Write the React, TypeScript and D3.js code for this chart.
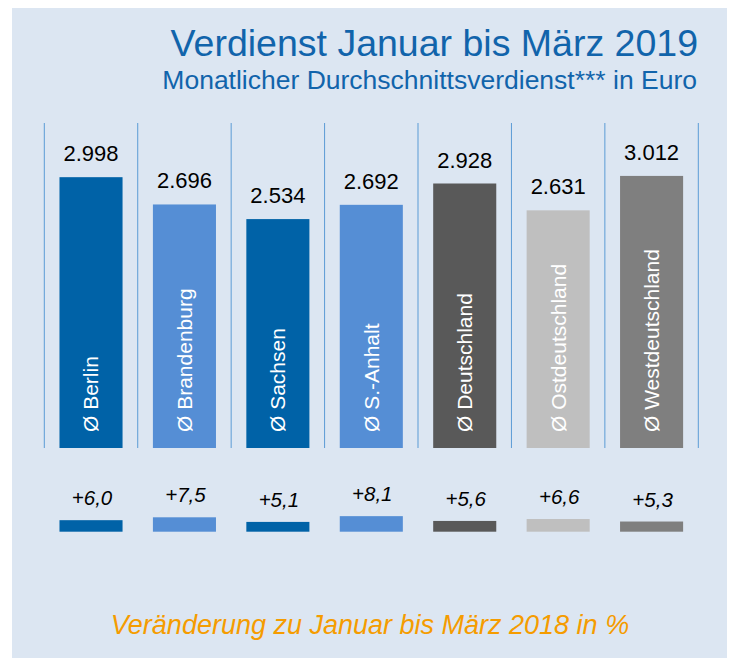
import React, { useMemo } from "react";
import * as d3 from "d3";

const WIDTH = 729;
const HEIGHT = 659;

// data
const categories = [
  "Ø Berlin",
  "Ø Brandenburg",
  "Ø Sachsen",
  "Ø S.-Anhalt",
  "Ø Deutschland",
  "Ø Ostdeutschland",
  "Ø Westdeutschland",
];
const verdienst = [2998, 2696, 2534, 2692, 2928, 2631, 3012];
const veraenderung = [6.0, 7.5, 5.1, 8.1, 5.6, 6.6, 5.3];
const barColors = ["#0062A7", "#558ED5", "#0062A7", "#558ED5", "#595959", "#BFBFBF", "#7F7F7F"];

const title = "Verdienst Januar bis März 2019";
const subtitle = "Monatlicher Durchschnittsverdienst*** in Euro";
const footer = "Veränderung zu Januar bis März 2018 in %";

const FONT = "'Liberation Sans', Arial, Helvetica, sans-serif";
const BLUE = "#1164AB";

const de = d3.formatLocale({
  decimal: ",",
  thousands: ".",
  grouping: [3],
  currency: ["", " €"],
});
const fmtEuro = de.format(",d");
const fmtPct = de.format("+.1f");

export default function App() {
  const rows = categories.map((c, i) => ({
    name: c,
    value: verdienst[i],
    change: veraenderung[i],
    color: barColors[i],
  }));

  // band cells between the thin vertical separators
  const xScale = useMemo(
    () => d3.scaleBand().domain(categories).range([44.3, 698.3]).padding(0),
    []
  );
  const barW = xScale.bandwidth() * 0.675;

  // main bars
  const yScale = useMemo(() => d3.scaleLinear().domain([0, 3000]).range([448, 177]), []);
  // change bars below
  const cScale = useMemo(() => d3.scaleLinear().domain([0, 10]).range([531.7, 512.5]), []);

  const separators = [...categories.map((c) => xScale(c)!), 698.3];

  return (
    <svg
      width={WIDTH}
      height={HEIGHT}
      style={{ position: "absolute", left: 0, top: 0, display: "block" }}
      fontFamily={FONT}
    >
      <rect x={0} y={0} width={WIDTH} height={HEIGHT} fill="#fff" />
      <rect x={12} y={8} width={715} height={650} fill="#DCE6F2" />

      <text x={698} y={56} textAnchor="end" fontSize={37.5} fill={BLUE}>
        {title}
      </text>
      <text x={697} y={88.5} textAnchor="end" fontSize={26.5} fill={BLUE}>
        {subtitle}
      </text>

      {separators.map((x, i) => (
        <line key={i} x1={x} x2={x} y1={123} y2={448} stroke="#5B9BD5" strokeWidth={1} />
      ))}

      {rows.map((d) => {
        const cx = xScale(d.name)! + xScale.bandwidth() / 2;
        const top = yScale(d.value);
        const ctop = cScale(d.change);
        return (
          <g key={d.name}>
            <rect x={cx - barW / 2} y={top} width={barW} height={yScale(0) - top} fill={d.color} />
            <text x={cx} y={top - 16} textAnchor="middle" fontSize={22} fill="#000">
              {fmtEuro(d.value)}
            </text>
            <text
              transform={`translate(${cx},432) rotate(-90)`}
              dy="0.35em"
              fontSize={21}
              fill="#fff"
            >
              {d.name}
            </text>

            <rect x={cx - barW / 2} y={ctop} width={barW} height={cScale(0) - ctop} fill={d.color} />
            <text
              x={cx + 1}
              y={ctop - 15}
              textAnchor="middle"
              fontSize={20.5}
              fontStyle="italic"
              fill="#000"
            >
              {fmtPct(d.change)}
            </text>
          </g>
        );
      })}

      <text x={370} y={634} textAnchor="middle" fontSize={27} fontStyle="italic" fill="#F59C00">
        {footer}
      </text>
    </svg>
  );
}
